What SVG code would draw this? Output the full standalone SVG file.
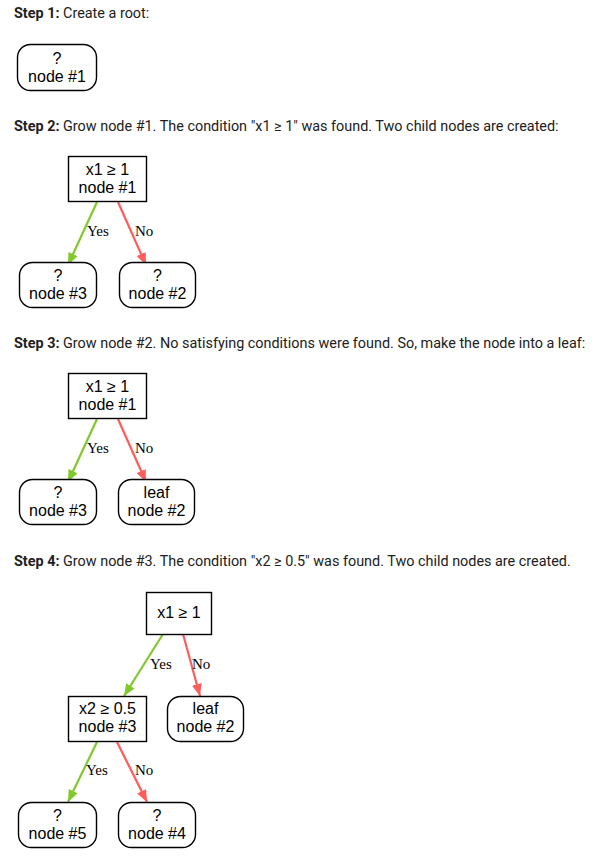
<svg xmlns="http://www.w3.org/2000/svg" width="603" height="858" viewBox="0 0 603 858">
<style>
.bg{fill:#fff}
.h{font-family:Roboto,"Liberation Sans",sans-serif;font-size:14.4px;fill:#212121}
.h .b{font-weight:bold}
.nd{fill:#fff;stroke:#000;stroke-width:1.4}
.t{font-family:"Liberation Sans",Arial,sans-serif;font-size:16px;fill:#000;text-anchor:middle}
.lb{font-family:"Liberation Serif","Times New Roman",serif;font-size:15px;fill:#000}
.yes{stroke:#80c92a;stroke-width:2.2;fill:none}
.no{stroke:#ff5c5c;stroke-width:2.2;fill:none}
</style>
<defs>
<marker id="ay" markerUnits="userSpaceOnUse" markerWidth="13" markerHeight="11" refX="12" refY="5" orient="auto"><path d="M0,0 L12,5 L0,10 z" fill="#80c92a"/></marker>
<marker id="an" markerUnits="userSpaceOnUse" markerWidth="13" markerHeight="11" refX="12" refY="5" orient="auto"><path d="M0,0 L12,5 L0,10 z" fill="#ff5c5c"/></marker>
</defs>
<rect class="bg" x="0" y="0" width="603" height="858"/>

<g id="headings">
<text class="h" x="14" y="18"><tspan class="b">Step 1:</tspan> Create a root:</text>
<text class="h" x="14" y="131"><tspan class="b">Step 2:</tspan> Grow node #1. The condition "x1 ≥ 1" was found. Two child nodes are created:</text>
<text class="h" x="14" y="348"><tspan class="b">Step 3:</tspan> Grow node #2. No satisfying conditions were found. So, make the node into a leaf:</text>
<text class="h" x="14" y="566"><tspan class="b">Step 4:</tspan> Grow node #3. The condition "x2 ≥ 0.5" was found. Two child nodes are created.</text>
</g>

<!-- Step 1 -->
<g id="s1-node1">
<rect class="nd" x="17.5" y="44.5" width="79" height="46" rx="13"/>
<text class="t" x="57" y="63.5">?</text>
<text class="t" x="57" y="81.5">node #1</text>
</g>

<!-- Step 2 -->
<g id="s2-connectors">
<line class="yes" x1="97" y1="202" x2="68" y2="265" marker-end="url(#ay)"/>
<line class="no" x1="118" y1="202" x2="146" y2="265" marker-end="url(#an)"/>
<text class="lb" x="87" y="236">Yes</text>
<text class="lb" x="135" y="236">No</text>
</g>
<g id="s2-node1">
<rect class="nd" x="68.5" y="156.5" width="78" height="45"/>
<text class="t" x="107.5" y="175">x1 ≥ 1</text>
<text class="t" x="107.5" y="193">node #1</text>
</g>
<g id="s2-node3">
<rect class="nd" x="19.5" y="262.5" width="77" height="45" rx="13"/>
<text class="t" x="58" y="281">?</text>
<text class="t" x="58" y="299">node #3</text>
</g>
<g id="s2-node2">
<rect class="nd" x="119.5" y="262.5" width="76" height="45" rx="13"/>
<text class="t" x="157.5" y="281">?</text>
<text class="t" x="157.5" y="299">node #2</text>
</g>

<!-- Step 3 -->
<g id="s3-connectors">
<line class="yes" x1="97" y1="419" x2="68" y2="482" marker-end="url(#ay)"/>
<line class="no" x1="118" y1="419" x2="146" y2="482" marker-end="url(#an)"/>
<text class="lb" x="87" y="453">Yes</text>
<text class="lb" x="135" y="453">No</text>
</g>
<g id="s3-node1">
<rect class="nd" x="68.5" y="373.5" width="78" height="45"/>
<text class="t" x="107.5" y="392">x1 ≥ 1</text>
<text class="t" x="107.5" y="410">node #1</text>
</g>
<g id="s3-node3">
<rect class="nd" x="19.5" y="479.5" width="77" height="45" rx="13"/>
<text class="t" x="58" y="498">?</text>
<text class="t" x="58" y="516">node #3</text>
</g>
<g id="s3-node2">
<rect class="nd" x="118.5" y="479.5" width="76" height="45" rx="13"/>
<text class="t" x="156.5" y="498">leaf</text>
<text class="t" x="156.5" y="516">node #2</text>
</g>

<!-- Step 4 -->
<g id="s4-connectors">
<line class="yes" x1="163" y1="634" x2="124" y2="696" marker-end="url(#ay)"/>
<line class="no" x1="183" y1="634" x2="200" y2="696" marker-end="url(#an)"/>
<text class="lb" x="150" y="669">Yes</text>
<text class="lb" x="192" y="669">No</text>
<line class="yes" x1="97" y1="742" x2="68" y2="802" marker-end="url(#ay)"/>
<line class="no" x1="117" y1="742" x2="147" y2="802" marker-end="url(#an)"/>
<text class="lb" x="86" y="775">Yes</text>
<text class="lb" x="135" y="775">No</text>
</g>
<g id="s4-node1">
<rect class="nd" x="146.5" y="592.5" width="65" height="42"/>
<text class="t" x="179" y="618">x1 ≥ 1</text>
</g>
<g id="s4-node3">
<rect class="nd" x="68.5" y="696.5" width="78" height="45"/>
<text class="t" x="107.5" y="714">x2 ≥ 0.5</text>
<text class="t" x="107.5" y="731.5">node #3</text>
</g>
<g id="s4-node2">
<rect class="nd" x="167.5" y="696.5" width="76" height="45" rx="13"/>
<text class="t" x="205.5" y="714">leaf</text>
<text class="t" x="205.5" y="731.5">node #2</text>
</g>
<g id="s4-node5">
<rect class="nd" x="18.5" y="802.5" width="78" height="45" rx="13"/>
<text class="t" x="57.5" y="821">?</text>
<text class="t" x="57.5" y="839">node #5</text>
</g>
<g id="s4-node4">
<rect class="nd" x="118.5" y="802.5" width="77" height="45" rx="13"/>
<text class="t" x="157" y="821">?</text>
<text class="t" x="157" y="839">node #4</text>
</g>
</svg>
